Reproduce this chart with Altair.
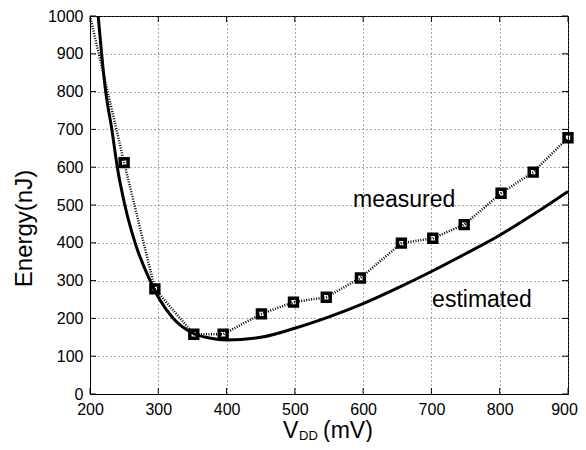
import altair as alt
import pandas as pd

# measured data (mV, nJ)
meas_v = [200, 250, 295, 352, 395, 451, 498, 546, 596, 656, 702, 748, 802, 849, 900]
meas_e = [1000, 612, 278, 158, 158, 212, 243, 256, 307, 399, 412, 448, 531, 587, 678]
marker_v = meas_v[1:]
marker_e = meas_e[1:]

# estimated curve
est_v = [212, 217, 223, 232, 240, 251, 266, 288, 302, 322, 352, 375, 400, 450, 500, 550, 600, 650, 700, 750, 800, 850, 900]
est_e = [1000, 900, 800, 700, 600, 500, 400, 300, 250, 200, 160, 148, 143, 150, 174, 204, 239, 280, 324, 371, 420, 476, 536]

labels = ["measured", "estimated"]
label_v = [660, 774]
label_e = [512, 248]

x_ticks = list(range(200, 901, 100))
y_ticks = list(range(0, 1001, 100))

FONT = "Liberation Sans"
W, H = 478, 378

meas_df = pd.DataFrame({"v": meas_v, "e": meas_e})
mark_df = pd.DataFrame({"v": marker_v, "e": marker_e})
est_df = pd.DataFrame({"v": est_v, "e": est_e})
lab_df = pd.DataFrame({"v": label_v, "e": label_e, "t": labels})
xt_df = pd.DataFrame({"v": x_ticks})
yt_df = pd.DataFrame({"e": y_ticks})

xs = alt.Scale(domain=[200, 900], nice=False, zero=False)
ys = alt.Scale(domain=[0, 1000], nice=False, zero=False)

xax = alt.Axis(values=x_ticks, format="d", title=None, grid=True,
               gridDash=[1, 3], gridColor="#555", gridWidth=1,
               labelFont=FONT, labelFontSize=16, labelColor="black", labelFlush=False,
               labelOffset=alt.ExprRef("datum.value == 900 ? -4 : 0"),
               domainColor="black", tickSize=0, labelPadding=7)
yax = alt.Axis(values=y_ticks, format="d", title="Energy(nJ)", grid=True,
               gridDash=[1, 3], gridColor="#555", gridWidth=1,
               labelFont=FONT, labelFontSize=16, labelColor="black", labelFlush=False,
               domainColor="black", tickSize=0, labelPadding=7,
               titleFont=FONT, titleFontSize=24, titleFontWeight="normal",
               titleColor="black", titleX=-66, titleY=212, titleAngle=-90,
               titleAlign="center", titleBaseline="middle")

X = alt.X("v:Q", scale=xs, axis=xax)
Y = alt.Y("e:Q", scale=ys, axis=yax)

est_line = alt.Chart(est_df).mark_line(color="black", strokeWidth=3, clip=True,
                                      interpolate="monotone").encode(x=X, y=Y)
meas_line = alt.Chart(meas_df).mark_line(color="black", strokeWidth=2.5, clip=True,
                                        strokeDash=[1, 1.5]).encode(x=X, y=Y)
markers = alt.Chart(mark_df).mark_point(shape="square", filled=False, color="black",
                                       strokeWidth=3.5, size=62, opacity=1).encode(x=X, y=Y)
texts = alt.Chart(lab_df).mark_text(font=FONT, fontSize=23, color="black").encode(
    x=X, y=Y, text="t:N")

# inward ticks (MATLAB style) on all four sides
tk = dict(color="black", strokeWidth=1)
tb = alt.Chart(xt_df).mark_rule(**tk).encode(x=X, y=alt.value(H), y2=alt.value(H - 6))
tt = alt.Chart(xt_df).mark_rule(**tk).encode(x=X, y=alt.value(0), y2=alt.value(6))
tl = alt.Chart(yt_df).mark_rule(**tk).encode(y=Y, x=alt.value(0), x2=alt.value(6))
tr = alt.Chart(yt_df).mark_rule(**tk).encode(y=Y, x=alt.value(W), x2=alt.value(W - 6))

t1 = alt.Chart(pd.DataFrame({"t": ["V"]})).mark_text(
    font=FONT, fontSize=23, align="left", baseline="alphabetic", color="black"
).encode(x=alt.value(193), y=alt.value(422), text="t:N")
t2 = alt.Chart(pd.DataFrame({"t": ["DD"]})).mark_text(
    font=FONT, fontSize=13, align="left", baseline="alphabetic", color="black"
).encode(x=alt.value(209), y=alt.value(424), text="t:N")
t3 = alt.Chart(pd.DataFrame({"t": ["(mV)"]})).mark_text(
    font=FONT, fontSize=23, align="left", baseline="alphabetic", color="black"
).encode(x=alt.value(233), y=alt.value(422), text="t:N")

chart = alt.layer(est_line, meas_line, markers, texts, tb, tt, tl, tr, t1, t2, t3).properties(
    width=W, height=H,
    autosize=alt.AutoSizeParams(type="none"),
    padding={"left": 82, "top": 8, "right": 10, "bottom": 48},
    background="white",
).configure_view(stroke="black", strokeWidth=1)

chart.save("out.html", embed_options={"renderer": "svg", "actions": False})
